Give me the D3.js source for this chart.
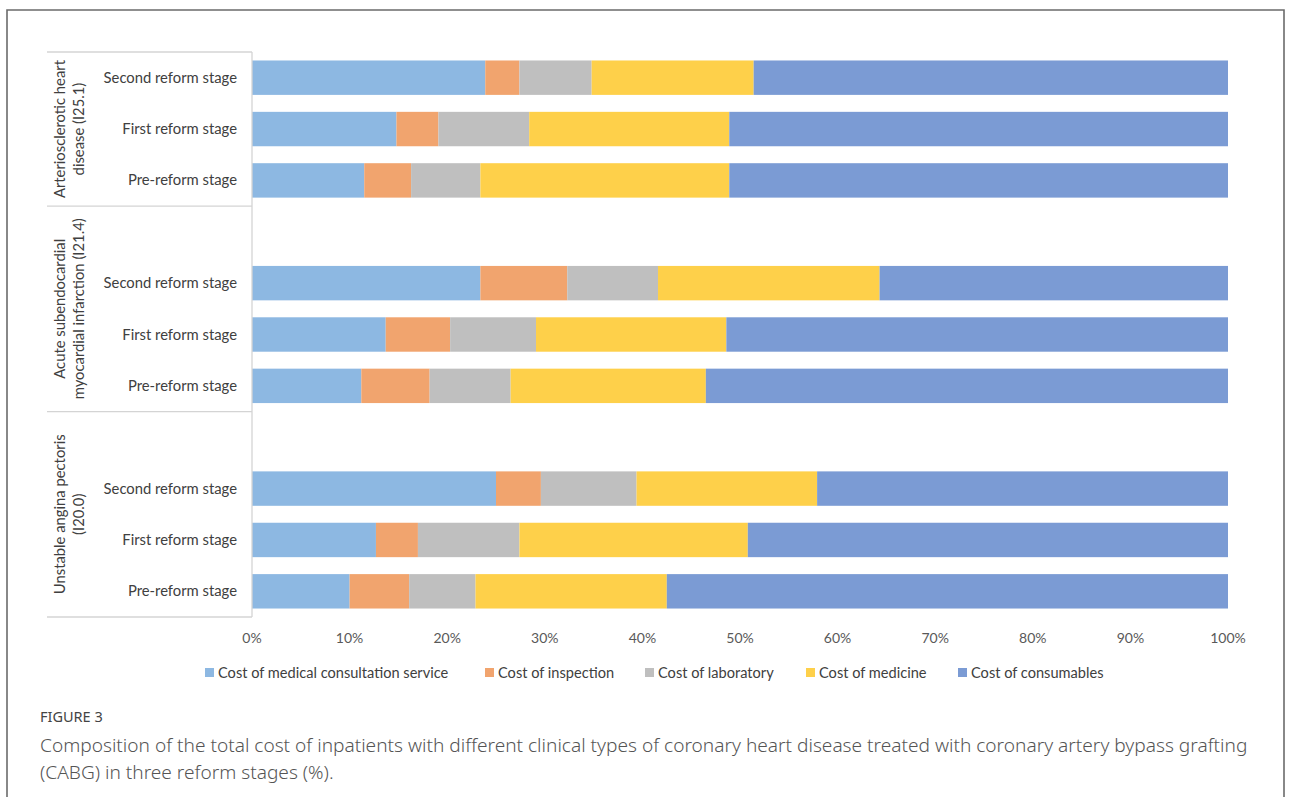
<!DOCTYPE html>
<html>
<head>
<meta charset="utf-8">
<script src="https://cdn.jsdelivr.net/npm/d3@7/dist/d3.min.js"></script>
<style>
  body { margin: 0; background: #fff; }
  svg { display: block; }
</style>
</head>
<body>
<div id="chart"></div>
<script>
var groups = [
  ['Arteriosclerotic heart', 'disease (I25.1)'],
  ['Acute subendocardial', 'myocardial infarction (I21.4)'],
  ['Unstable angina pectoris', '(I20.0)']
];
var stages = ['Second reform stage', 'First reform stage', 'Pre-reform stage'];
var seriesNames = [
  'Cost of medical consultation service',
  'Cost of inspection',
  'Cost of laboratory',
  'Cost of medicine',
  'Cost of consumables'
];
var colors = ['#8db8e2', '#f1a46e', '#bfbfbf', '#fed04a', '#7b9bd4'];

// values per group, per stage (second, first, pre), in % of total
var consultation = [[23.9, 14.8, 11.5], [23.4, 13.7, 11.2], [25.0, 12.7, 10.0]];
var inspection   = [[3.5, 4.3, 4.8], [8.9, 6.6, 7.0], [4.6, 4.3, 6.1]];
var laboratory   = [[7.4, 9.3, 7.1], [9.3, 8.8, 8.3], [9.8, 10.4, 6.8]];
var medicine     = [[16.6, 20.5, 25.5], [22.7, 19.5, 20.0], [18.5, 23.4, 19.6]];
var consumables  = [[48.6, 51.1, 51.1], [35.7, 51.4, 53.5], [42.1, 49.2, 57.5]];
var ticks = [0, 10, 20, 30, 40, 50, 60, 70, 80, 90, 100];

var W = 1292, H = 797;
var svg = d3.select('#chart').append('svg').attr('width', W).attr('height', H);

// frame
svg.append('path')
  .attr('d', 'M7,' + (H + 5) + 'V10H1284V' + (H + 5))
  .attr('fill', 'none')
  .attr('stroke', '#6b6b6b')
  .attr('stroke-width', 1.6);

var font = 'Lato, "Open Sans", sans-serif';

// slots: 3 per group plus a blank row between groups
var slots = [];
var rows = [];
groups.forEach(function (g, gi) {
  if (gi > 0) slots.push('blank' + gi);
  stages.forEach(function (s, si) {
    var key = gi + '-' + si;
    slots.push(key);
    var vals = [consultation[gi][si], inspection[gi][si], laboratory[gi][si], medicine[gi][si], consumables[gi][si]];
    var tot = d3.sum(vals);
    var x0 = 0;
    var segs = vals.map(function (v, k) {
      var seg = { k: k, x0: x0 / tot * 100, x1: (x0 + v) / tot * 100 };
      x0 += v;
      return seg;
    });
    rows.push({ key: key, stage: s, segs: segs });
  });
});

var x = d3.scaleLinear().domain([0, 100]).range([252, 1228]);
var y = d3.scaleBand().domain(slots).range([52, 617]).paddingInner(0.33).paddingOuter(0.165);

// bars
var rowG = svg.selectAll('g.row').data(rows).enter().append('g').attr('class', 'row');
rowG.selectAll('rect').data(function (d) { return d.segs; }).enter().append('rect')
  .attr('x', function (d) { return x(d.x0); })
  .attr('width', function (d) { return x(d.x1) - x(d.x0); })
  .attr('y', function (d) { return y(d3.select(this.parentNode).datum().key); })
  .attr('height', y.bandwidth())
  .attr('fill', function (d) { return colors[d.k]; });

// stage labels
svg.selectAll('text.stage').data(rows).enter().append('text')
  .attr('class', 'stage')
  .attr('x', 237)
  .attr('y', function (d) { return y(d.key) + y.bandwidth() / 2 + 5; })
  .attr('text-anchor', 'end')
  .style('font', '14.8px ' + font)
  .attr('fill', '#404040')
  .text(function (d) { return d.stage; });

// group separators
var step = y.step();
var bounds = [52, 52 + step * 3, 52 + step * 7, 617];
svg.selectAll('line.sep').data(bounds).enter().append('line')
  .attr('x1', 47).attr('x2', 252)
  .attr('y1', function (d) { return d; }).attr('y2', function (d) { return d; })
  .attr('stroke', '#d4d4d4').attr('stroke-width', 1.3);
svg.append('line')
  .attr('x1', 252).attr('x2', 252).attr('y1', 52).attr('y2', 617)
  .attr('stroke', '#d4d4d4').attr('stroke-width', 1.3);

// group labels (rotated)
groups.forEach(function (g, gi) {
  var cy = (bounds[gi] + bounds[gi + 1]) / 2;
  var t = svg.append('text')
    .attr('transform', 'translate(69,' + cy + ') rotate(-90)')
    .attr('text-anchor', 'middle')
    .style('font', '14.8px ' + font)
    .attr('fill', '#404040');
  g.forEach(function (line, li) {
    t.append('tspan').attr('x', 0).attr('dy', li === 0 ? -4 : 19).text(line);
  });
});

// x axis tick labels
svg.selectAll('text.tick').data(ticks).enter().append('text')
  .attr('class', 'tick')
  .attr('x', function (d) { return x(d); })
  .attr('y', 643)
  .attr('text-anchor', 'middle')
  .style('font', '14px ' + font)
  .attr('fill', '#595959')
  .text(function (d) { return d + '%'; });

// legend
var legendX = [205, 485, 645, 806, 958];
var lg = svg.selectAll('g.legend').data(seriesNames).enter().append('g')
  .attr('class', 'legend')
  .attr('transform', function (d, i) { return 'translate(' + legendX[i] + ',673)'; });
lg.append('rect').attr('x', 0).attr('y', -5).attr('width', 9).attr('height', 9)
  .attr('fill', function (d, i) { return colors[i]; });
lg.append('text').attr('x', 13).attr('y', 5)
  .style('font', '14.6px ' + font)
  .attr('fill', '#404040')
  .text(function (d) { return d; });

// caption
svg.append('text').attr('x', 40).attr('y', 722)
  .style('font', '14.5px "Noto Sans", sans-serif')
  .attr('fill', '#444')
  .text('FIGURE 3');
var cap = svg.append('text')
  .style('font', '300 19.1px "Noto Sans", sans-serif')
  .attr('fill', '#555');
cap.append('tspan').attr('x', 40).attr('y', 752)
  .text('Composition of the total cost of inpatients with different clinical types of coronary heart disease treated with coronary artery bypass grafting');
cap.append('tspan').attr('x', 40).attr('y', 779)
  .text('(CABG) in three reform stages (%).');
</script>
</body>
</html>
